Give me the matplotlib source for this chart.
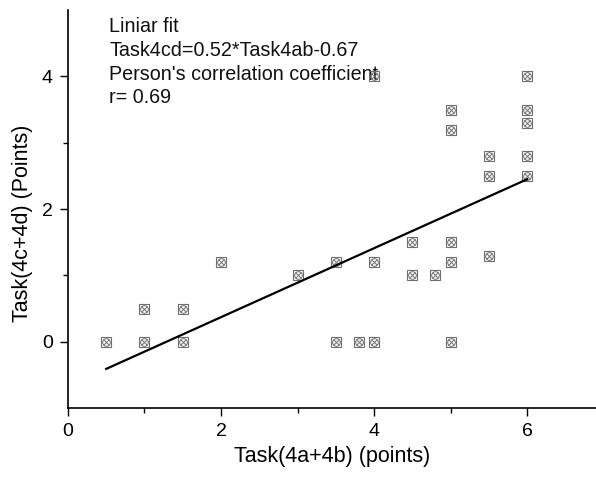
import matplotlib
matplotlib.use('Agg')
import matplotlib.pyplot as plt
import numpy as np

plt.rcParams['font.family'] = ['Liberation Sans', 'DejaVu Sans']

# data
task4ab = [0.5, 1, 1, 1.5, 1.5, 2, 3, 3.5, 3.5, 3.8, 4, 4, 4, 4.5, 4.5, 4.8,
           5, 5, 5, 5, 5, 5.5, 5.5, 5.5, 6, 6, 6, 6, 6]
task4cd = [0, 0, 0.5, 0, 0.5, 1.2, 1.0, 1.2, 0, 0, 0, 1.2, 4, 1.5, 1.0, 1.0,
           0, 1.2, 1.5, 3.2, 3.5, 1.3, 2.5, 2.8, 2.5, 2.8, 3.3, 3.5, 4]
slope = 0.52
intercept = -0.67
r_value = 0.69

x = np.array(task4ab)
y = np.array(task4cd)

fig = plt.figure(figsize=(5.96, 4.84), dpi=100)
ax = fig.add_axes([0.114, 0.157, 0.886, 0.822])

# origin-style marker: square with circle and cross
mc = '#6e6e6e'
ax.plot(x, y, ls='none', marker='s', ms=7, mfc='none', mec=mc, mew=0.8, zorder=3)
ax.plot(x, y, ls='none', marker='o', ms=5.5, mfc='none', mec=mc, mew=0.7, zorder=4)
ax.plot(x, y, ls='none', marker='x', ms=4, mec=mc, mew=0.7, zorder=4)

# linear fit line
xf = np.array([x.min(), x.max()])
ax.plot(xf, slope * xf + intercept, color='black', lw=1.6, zorder=5)

ax.text(0.078, 0.982,
        "Liniar fit\nTask4cd=%.2f*Task4ab%.2f\nPerson's correlation coefficient\nr= %.2f"
        % (slope, intercept, r_value),
        transform=ax.transAxes, ha='left', va='top', fontsize=14.2,
        linespacing=1.31, color='#111111', zorder=2)

ax.set_xlim(0, 6.9)
ax.set_ylim(-1, 5)
ax.set_xticks([0, 2, 4, 6])
ax.set_yticks([0, 2, 4])
ax.set_xticks([1, 3, 5], minor=True)
ax.set_yticks([1, 3], minor=True)
ax.tick_params(which='major', length=6, width=1, labelsize=14, direction='out', pad=5)
ax.tick_params(which='minor', length=3.5, width=1, direction='out')
ax.spines['top'].set_visible(False)
ax.spines['right'].set_visible(False)
ax.spines['left'].set_linewidth(1.2)
ax.spines['bottom'].set_linewidth(1.2)

ax.set_xlabel('Task(4a+4b) (points)', fontsize=15.5, labelpad=4)
ax.set_ylabel('Task(4c+4d) (Points)', fontsize=15.5)
ax.yaxis.set_label_coords(-0.066, 0.465)

plt.savefig('out.png', dpi=100)
